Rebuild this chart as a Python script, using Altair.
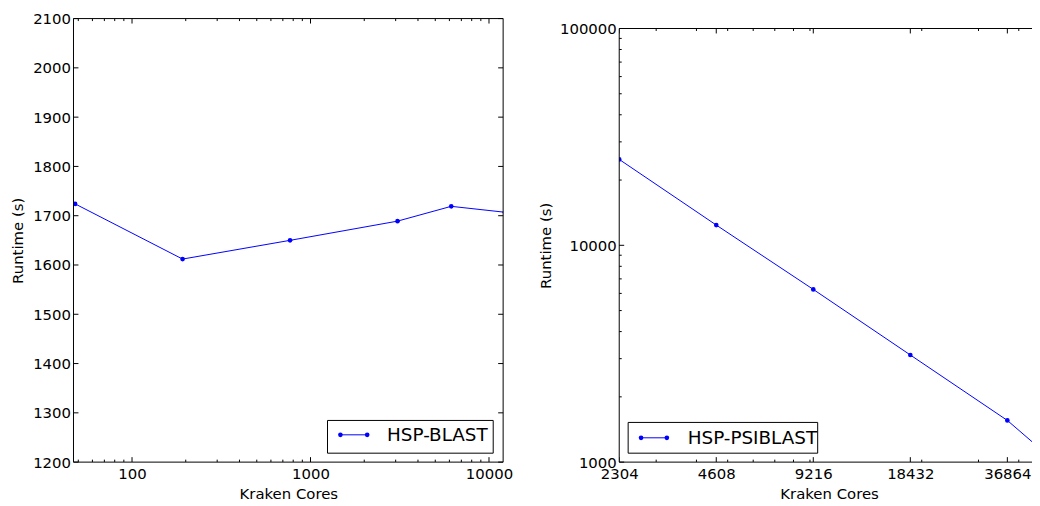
import altair as alt
import pandas as pd

# ---- data ----
left_cores = [48, 192, 768, 3072, 6144, 12288]
left_runtime = [1724, 1612, 1650, 1689, 1719, 1707]

right_cores = [2304, 4608, 9216, 18432, 36864, 73728]
right_runtime = [24900, 12400, 6260, 3120, 1557, 640]

# ---- tick values ----
left_x_labels = [100, 1000, 10000]
left_x_minor = [50, 60, 70, 80, 90, 200, 300, 400, 500, 600, 700, 800, 900,
                2000, 3000, 4000, 5000, 6000, 7000, 8000, 9000]
left_y_labels = [1200, 1300, 1400, 1500, 1600, 1700, 1800, 1900, 2000, 2100]

right_x_labels = [2304, 4608, 9216, 18432, 36864]
right_x_minor = [3000, 4000, 5000, 6000, 7000, 8000, 9000, 20000, 30000, 40000]
right_y_labels = [1000, 10000, 100000]
right_y_minor = [2000, 3000, 4000, 5000, 6000, 7000, 8000, 9000,
                 20000, 30000, 40000, 50000, 60000, 70000, 80000, 90000]

FONT = "DejaVu Sans"
BLUE = "#0000ff"


def axis(values, title, label_pad, title_pad, title_y=None):
    kw = dict(values=values, format="d", labelFontSize=15, labelFont=FONT,
              labelColor="black", labelPadding=label_pad, labelFlush=False,
              labelOverlap=False, ticks=False, tickSize=0, domain=False,
              grid=False, title=title, titleFontSize=15, titleFont=FONT,
              titleFontWeight="normal", titleColor="black",
              titlePadding=title_pad)
    if title_y is not None:
        kw["titleY"] = title_y
    return alt.Axis(**kw)


def panel(cores, runtime, xdomain, ydomain, ytype, xlabels, xminor, ylabels, yminor,
          W, H, top, ytitle_pad, ytitle_y, legend_text, box, line_x, line_y, text_x):
    xscale = alt.Scale(type="log", domain=xdomain, nice=False, zero=False)
    yscale = alt.Scale(type=ytype, domain=ydomain, range=[H, top], nice=False, zero=False)
    df = pd.DataFrame({"cores": cores, "runtime": runtime})
    xa = axis(xlabels, "Kraken Cores", 5, 5)
    ya = axis(ylabels, "Runtime (s)", 3, ytitle_pad, ytitle_y)

    base = alt.Chart(df)
    line = base.mark_line(color=BLUE, strokeWidth=1, clip=True).encode(
        x=alt.X("cores:Q", scale=xscale, axis=xa),
        y=alt.Y("runtime:Q", scale=yscale, axis=ya),
    )
    pts = base.mark_circle(size=22, color=BLUE, opacity=1, clip=True).encode(
        x=alt.X("cores:Q", scale=xscale, axis=xa),
        y=alt.Y("runtime:Q", scale=yscale, axis=ya),
    )

    layers = []

    def xticks(vals, L):
        d = pd.DataFrame({"v": vals})
        bot = alt.Chart(d).mark_rule(color="black", strokeWidth=1, clip=True).encode(
            x=alt.X("v:Q", scale=xscale, axis=xa), y=alt.value(H), y2=alt.value(H - L))
        tp = alt.Chart(d).mark_rule(color="black", strokeWidth=1, clip=True).encode(
            x=alt.X("v:Q", scale=xscale, axis=xa), y=alt.value(top), y2=alt.value(top + L))
        return [bot, tp]

    def yticks(vals, L):
        d = pd.DataFrame({"v": vals})
        lft = alt.Chart(d).mark_rule(color="black", strokeWidth=1).encode(
            y=alt.Y("v:Q", scale=yscale, axis=ya), x=alt.value(0), x2=alt.value(L))
        rgt = alt.Chart(d).mark_rule(color="black", strokeWidth=1).encode(
            y=alt.Y("v:Q", scale=yscale, axis=ya), x=alt.value(W - L), x2=alt.value(W))
        return [lft, rgt]

    layers += xticks(xlabels, 5)
    if xminor:
        layers += xticks(xminor, 2.5)
    layers += yticks(ylabels, 5)
    if yminor:
        layers += yticks(yminor, 2.5)

    ld = pd.DataFrame({"label": [legend_text]})
    lg = alt.Chart(ld)
    frame = [
        lg.mark_rule(color="black", strokeWidth=1).encode(
            x=alt.value(0), y=alt.value(top), y2=alt.value(H)),
        lg.mark_rule(color="black", strokeWidth=1).encode(
            x=alt.value(W), y=alt.value(top), y2=alt.value(H)),
        lg.mark_rule(color="black", strokeWidth=1).encode(
            y=alt.value(top), x=alt.value(0), x2=alt.value(W)),
        lg.mark_rule(color="black", strokeWidth=1).encode(
            y=alt.value(H), x=alt.value(0), x2=alt.value(W)),
    ]
    rect = lg.mark_rect(fill="white", stroke="black", strokeWidth=1).encode(
        x=alt.value(box[0]), x2=alt.value(box[1]), y=alt.value(box[2]), y2=alt.value(box[3]))
    lline = lg.mark_rule(color=BLUE, strokeWidth=1).encode(
        x=alt.value(line_x[0]), x2=alt.value(line_x[1]), y=alt.value(line_y))
    p1 = lg.mark_circle(size=22, color=BLUE, opacity=1).encode(
        x=alt.value(line_x[0]), y=alt.value(line_y))
    p2 = lg.mark_circle(size=22, color=BLUE, opacity=1).encode(
        x=alt.value(line_x[1]), y=alt.value(line_y))
    txt = lg.mark_text(align="left", baseline="middle", fontSize=18.5, font=FONT,
                       color="black").encode(
        x=alt.value(text_x), y=alt.value(line_y), text="label:N")

    return alt.layer(line, pts, *layers, *frame, rect, lline, p1, p2, txt).properties(
        width=W, height=H)


left = panel(
    left_cores, left_runtime, [47, 12000], [1200, 2100], "linear",
    left_x_labels, left_x_minor, left_y_labels, None,
    433, 447, 0, 7, None, "HSP-BLAST",
    (256, 423, 405, 438), (269, 296), 419.5, 316,
)

right = panel(
    right_cores, right_runtime, [2304, 46200], [1000, 100000], "log",
    right_x_labels, right_x_minor, right_y_labels, right_y_minor,
    423, 447, 10, 6, 228.5, "HSP-PSIBLAST",
    (9, 200, 407, 438), (22, 48), 422.5, 69,
)

# fixed-size canvas (1032 x 490) so the page never overflows; content past the
# right edge is clipped, like the reference figure
chart = alt.hconcat(left, right, spacing=25).properties(
    autosize=alt.AutoSizeParams(type="none"),
    padding={"left": 66, "top": 7, "right": 966, "bottom": 483},
).configure_view(stroke=None)

chart.save("out.html", embed_options={"renderer": "svg", "actions": False})
